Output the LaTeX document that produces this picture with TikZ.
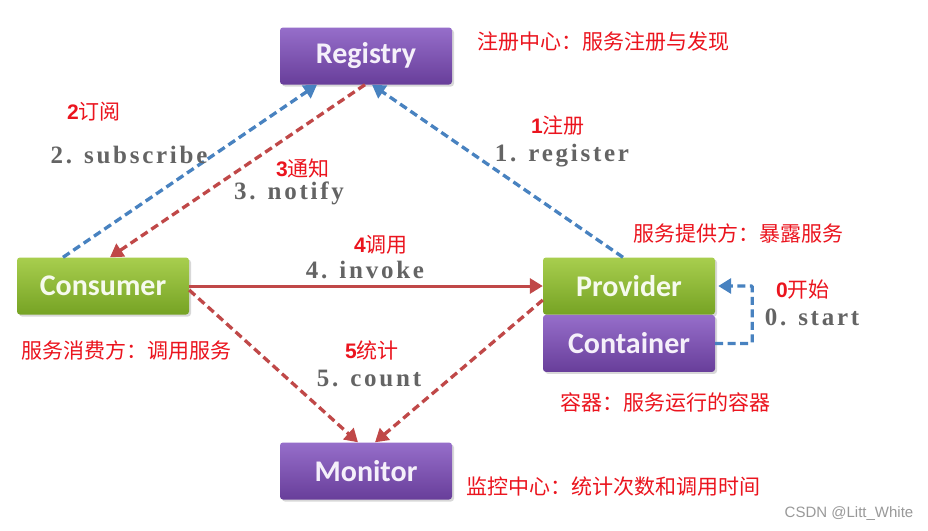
\documentclass[tikz,border=0pt]{standalone}
\usepackage{fontspec}
\usetikzlibrary{arrows.meta,positioning,shadows}
\setmainfont{Liberation Serif}
\newfontfamily\cjk{Noto Sans CJK SC}
\newfontfamily\boxfont{Carlito}
\newfontfamily\codefont[LetterSpace=11]{Liberation Serif}
\newfontfamily\numfont{Liberation Sans}
\definecolor{plumlight}{RGB}{150,110,202}
\definecolor{plumdark}{RGB}{104,62,154}
\definecolor{leaflight}{RGB}{168,206,78}
\definecolor{leafdark}{RGB}{118,163,36}
\definecolor{sky}{RGB}{72,130,192}
\definecolor{rust}{RGB}{192,72,72}
\definecolor{note}{RGB}{235,20,30}
\definecolor{slate}{RGB}{100,100,100}
\tikzset{
  >={Triangle[length=13pt,width=15pt]},
  role/.style={top color=#1light,bottom color=#1dark,rounded corners=3pt,
    minimum width=172pt,minimum height=57pt,text=white!90!#1light,
    font=\boxfont\bfseries\fontsize{30}{32}\selectfont,
    drop shadow={opacity=0.3,shadow xshift=2pt,shadow yshift=-2pt}},
  role/.default=plum,
  link/.style={->,line width=3.3pt,dash pattern=on 8pt off 4.5pt,draw=#1},
  link/.default=sky,
  call/.style={->,line width=3pt,draw=rust},
  codetag/.style={font=\codefont\bfseries\fontsize{25}{27}\selectfont,text=slate},
  cntag/.style={font=\cjk\fontsize{21}{24}\selectfont,text=note},
}
\newcommand{\num}[1]{{\numfont\bfseries #1}}

\begin{document}
\begin{tikzpicture}[x=1pt,y=-1pt]
  \fill[white] (0,0) rectangle (928,530);
  \useasboundingbox (0,0) rectangle (928,530);

  % the five roles
  \node[role=plum] (reg) at (366,56) {Registry};
  \node[role=leaf] (con) at (103,286) {Consumer};
  \node[role=leaf] (prov) at (629,286) {Provider};
  \node[role=plum,below=0pt of prov] (cont) {Container};
  \node[role=plum] (mon) at (366,471) {Monitor};

  % connectors
  \draw[link=sky] ([xshift=-6pt]prov.north) -- ([xshift=6pt]reg.south);
  \draw[link=sky] ([xshift=-40pt]con.north) -- ([xshift=-49pt]reg.south);
  \draw[link=rust] ([xshift=-1pt]reg.south) -- ([xshift=7pt]con.north);
  \draw[call] (con.east) -- (prov.west);
  \draw[link=rust] ([yshift=-4pt]con.east) -- ([xshift=-8pt]mon.north);
  \draw[link=rust] ([yshift=-14pt]prov.west) -- ([xshift=9pt]mon.north);
  \draw[link=sky,rounded corners=1pt] (cont.east) -- ++(37,0) |- ([xshift=3pt]prov.east);

  % step labels
  \node[codetag] (t1) at (562,156) {1. register};
  \node[codetag] (t2) at (129,155) {2. subscribe};
  \node[codetag] (t3) at (289,193) {3. notify};
  \node[codetag] (t4) at (365,270) {4. invoke};
  \node[codetag] (t5) at (369,378) {5. count};
  \node[codetag] (t0) at (812,317) {0. start};

  \node[cntag] (c1) at (558,126) {\num{1}注册};
  \node[cntag] (c2) at (94,112) {\num{2}订阅};
  \node[cntag] (c3) at (303,168) {\num{3}通知};
  \node[cntag] (c4) at (381,245) {\num{4}调用};
  \node[cntag] (c5) at (372,350) {\num{5}统计};
  \node[cntag] (c0) at (803,290) {\num{0}开始};

  % notes
  \node[cntag] (nreg) at (603,42) {注册中心：服务注册与发现};
  \node[cntag] (nprov) at (738,233) {服务提供方：暴露服务};
  \node[cntag] (ncon) at (126,351) {服务消费方：调用服务};
  \node[cntag] (ncont) at (665,402) {容器：服务运行的容器};
  \node[cntag] (nmon) at (613,487) {监控中心：统计次数和调用时间};
  \node[font=\numfont\fontsize{15}{18}\selectfont,text=black!40] (wm) at (849,514) {CSDN @Litt\_White};
\end{tikzpicture}
\end{document}
